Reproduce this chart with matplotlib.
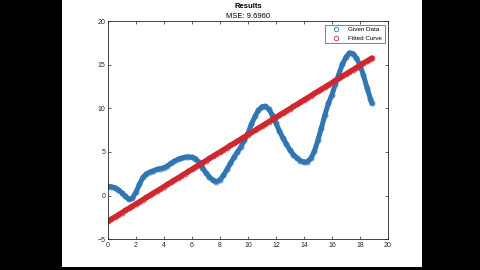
import numpy as np
import matplotlib.pyplot as plt
from matplotlib.patches import Rectangle

plt.rcParams['font.family'] = ['Liberation Sans', 'DejaVu Sans']

# Given data
x_data = [0.0, 0.25, 0.5, 0.75, 1.0, 1.25, 1.5, 1.75, 2.0, 2.25, 2.5, 2.75,
          3.0, 3.25, 3.5, 3.75, 4.0, 4.25, 4.5, 4.75, 5.0, 5.25, 5.5, 5.75,
          6.0, 6.25, 6.5, 6.75, 7.0, 7.25, 7.5, 7.75, 8.0, 8.25, 8.5, 8.75,
          9.0, 9.25, 9.5, 9.75, 10.0, 10.25, 10.5, 10.75, 11.0, 11.25, 11.5, 11.75,
          12.0, 12.25, 12.5, 12.75, 13.0, 13.25, 13.5, 13.75, 14.0, 14.25, 14.5, 14.75,
          15.0, 15.25, 15.5, 15.75, 16.0, 16.25, 16.5, 16.75, 17.0, 17.25, 17.5, 17.75,
          18.0, 18.25, 18.5, 18.75, 18.85]
y_data = [1.05, 1.0, 0.9, 0.65, 0.3, -0.1, -0.45, -0.3, 0.4, 1.3, 2.1, 2.5,
          2.7, 2.85, 3.0, 3.1, 3.2, 3.4, 3.7, 3.95, 4.15, 4.3, 4.4, 4.45,
          4.4, 4.25, 3.8, 3.2, 2.6, 2.1, 1.75, 1.6, 1.8, 2.3, 3.0, 3.7,
          4.4, 5.0, 5.6, 6.4, 7.2, 8.2, 9.1, 9.8, 10.2, 10.25, 9.9, 9.2,
          8.3, 7.4, 6.6, 5.9, 5.2, 4.7, 4.3, 4.0, 3.85, 3.9, 4.3, 5.1,
          6.4, 7.8, 9.3, 10.6, 11.6, 12.8, 14.0, 15.1, 15.9, 16.4, 16.3, 15.8,
          15.0, 13.8, 12.4, 11.1, 10.6]

# Linear fit coefficients (slope, intercept) as read
fit_coef = [0.995, -2.95]
mse = 9.6960

blue = '#2f76b2'
red = '#d0262e'

fig = plt.figure(figsize=(4.8, 2.7), dpi=100, facecolor='black')
fig.patches.append(Rectangle((62 / 480, 0.01), 360 / 480, 0.99,
                             transform=fig.transFigure, facecolor='white',
                             edgecolor='none', zorder=-10))
ax = fig.add_axes([0.225, 0.1148, 0.5833, 0.8056])
ax.set_zorder(5)

x = np.array(x_data)
y_fit = np.polyval(fit_coef, x)

ax.plot(x, y_data, '-', color=blue, lw=3.6, solid_capstyle='round',
        solid_joinstyle='round')
ax.plot(x, y_data, 'o', color=blue, ms=3.6, mfc='none', mew=0.6, label='Given Data')
ax.plot(x, y_fit, '-', color=red, lw=3.8, solid_capstyle='round')
ax.plot(x, y_fit, 'o', color=red, ms=3.6, mfc='none', mew=0.6, label='Fitted Curve')

ax.set_xlim(0, 20)
ax.set_ylim(-5, 20)
ax.set_xticks(np.arange(0, 21, 2))
ax.set_yticks(np.arange(-5, 21, 5))
ax.tick_params(direction='in', length=2, width=0.5, labelsize=5, colors='#262626',
               top=True, right=True, pad=2)
for s in ax.spines.values():
    s.set_linewidth(0.6)
    s.set_color('#262626')

fig.text(0.5167, 0.975, 'Results', ha='center', va='center', fontsize=5.5,
         fontweight='bold')
fig.text(0.5167, 0.94, f'MSE: {mse:.4f}', ha='center', va='center', fontsize=5.5)

leg = ax.legend(loc='upper right', fontsize=4.5, frameon=True, fancybox=False,
                edgecolor='#262626', borderpad=0.4, handlelength=2.5,
                markerscale=0.9, borderaxespad=0.5)
leg.get_frame().set_linewidth(0.5)

fig.savefig('out.png', dpi=100, facecolor='black')
